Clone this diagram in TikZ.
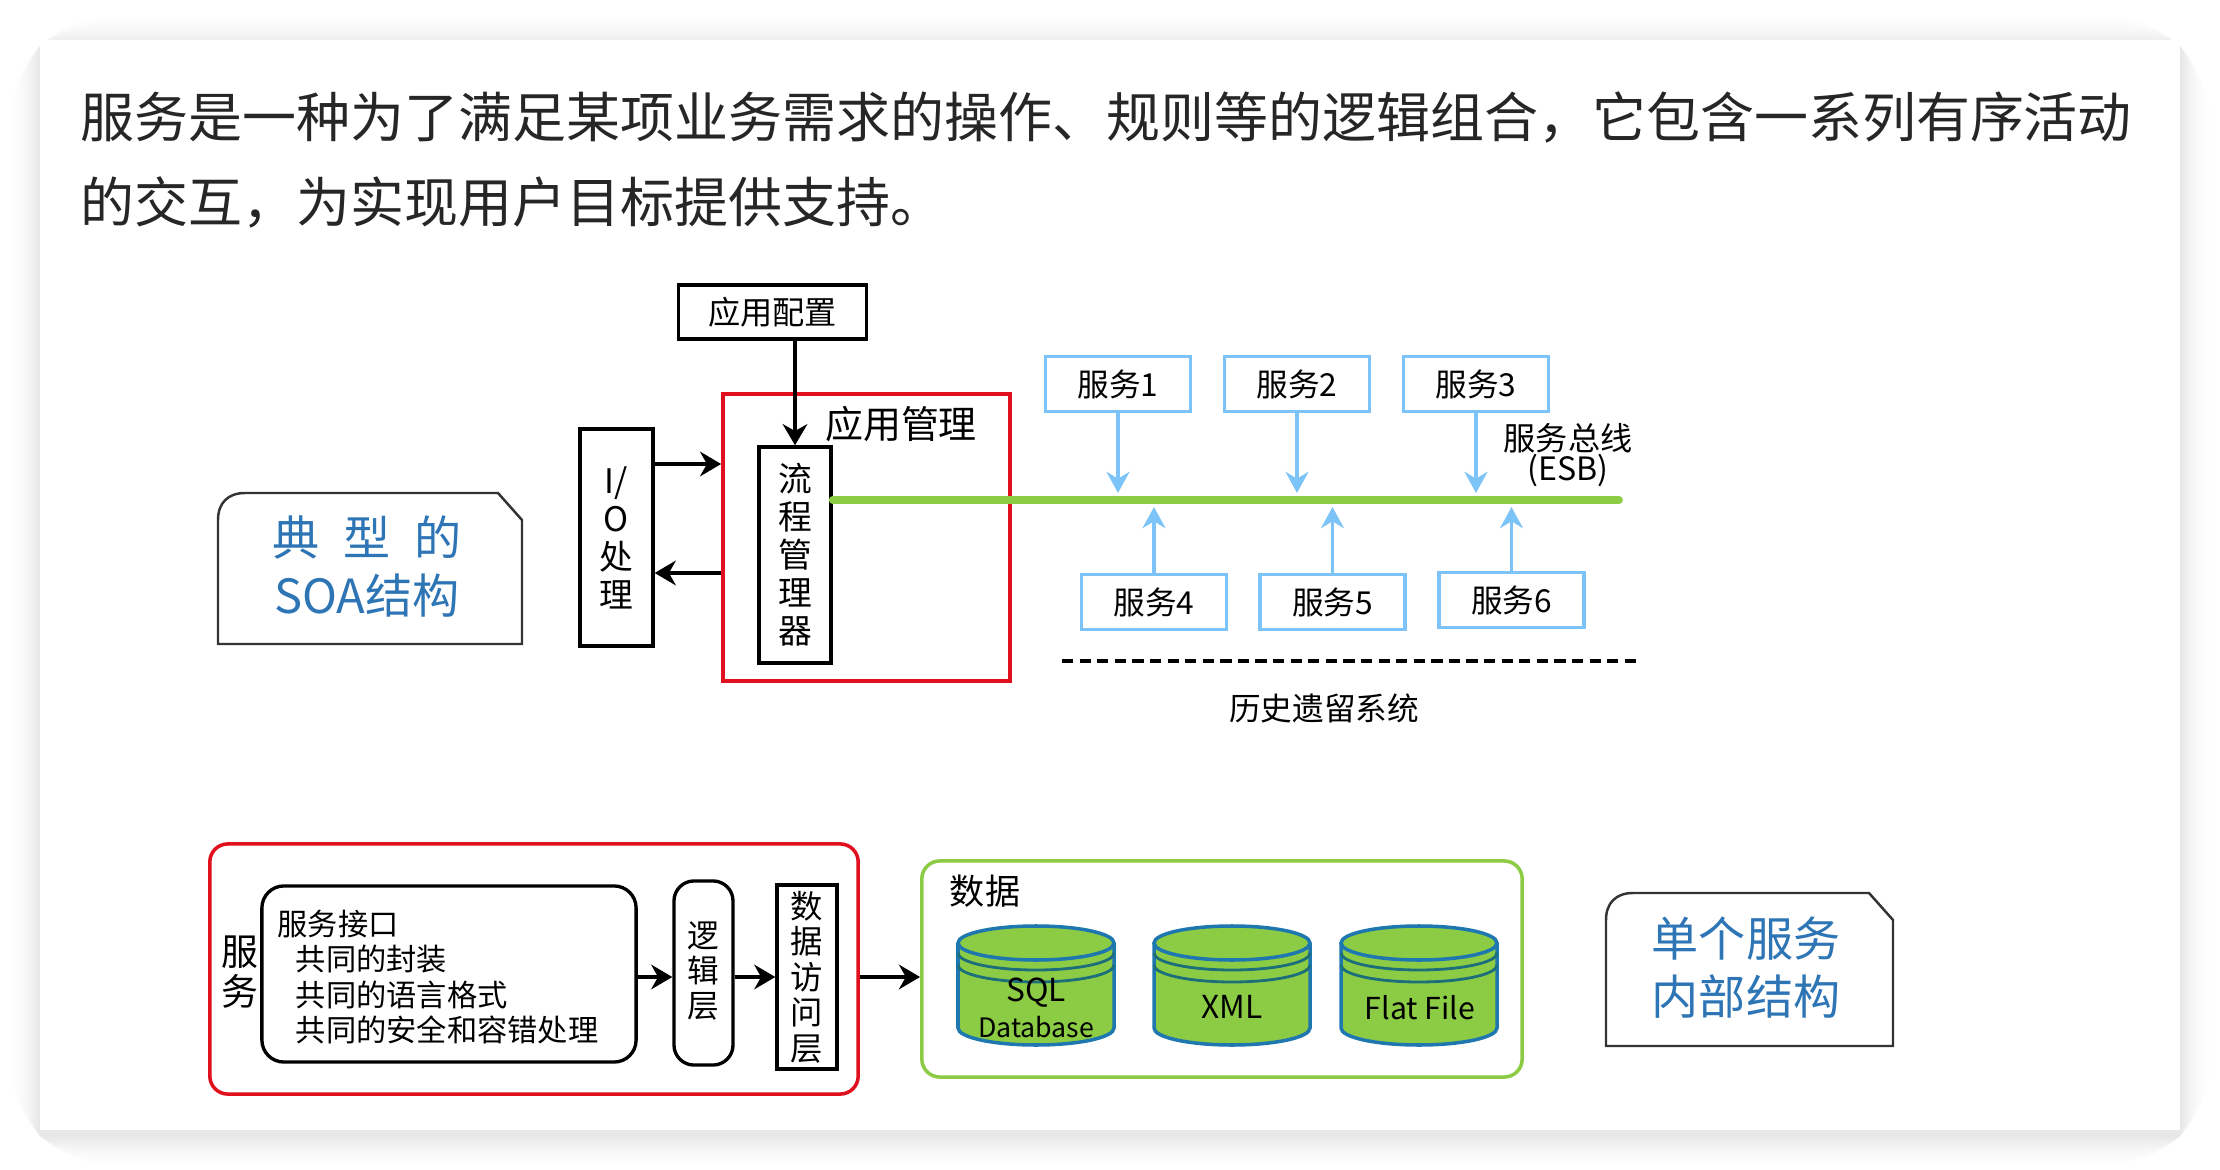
\documentclass[tikz,border=0pt]{standalone}
\usepackage{fontspec}
\setmainfont{Noto Sans CJK SC}
\usetikzlibrary{arrows.meta}
\definecolor{tagblue}{HTML}{2E75B6}
\definecolor{framered}{HTML}{E0101E}
\definecolor{busgreen}{HTML}{8CCC45}
\definecolor{svcblue}{HTML}{7CC3F7}
\definecolor{drumblue}{HTML}{1F77B0}
\definecolor{drumring}{HTML}{1B6E7A}
\begin{document}
\begin{tikzpicture}[x=0.01cm, y=-0.01cm,
    blackbox/.style={draw=black, line width=0.95pt, fill=white, inner sep=0pt, align=center},
    vtext/.style={font=\fontsize{9.6}{10.8}\selectfont},
    svcbox/.style={draw=svcblue, line width=1.1pt, minimum width=1.45cm, minimum height=0.55cm, inner sep=0pt, font=\fontsize{9}{11}\selectfont},
    svcarrow/.style={draw=svcblue, line width=1.1pt, -{Stealth[length=6pt,width=6.5pt]}},
    flowarrow/.style={draw=black, line width=1pt, -{Stealth[length=6pt,width=7pt]}},
    taglabel/.style={text=tagblue, align=center, font=\fontsize{13.4}{16.5}\selectfont},
    drumlabel/.style={font=\fontsize{9}{11}\selectfont, inner sep=0pt},
    plainlabel/.style={font=\fontsize{9}{11}\selectfont, inner sep=0pt, align=center}]
    \useasboundingbox (0,0) rectangle (2220,1170);
    % Card and its soft shadow
    \fill[white] (0,0) rectangle (2220,1170);
    \foreach \i in {34,32,...,2} {
        \pgfmathsetmacro{\pct}{10*(1-\i/36)*(1-\i/36)}
        \fill[black!\pct!white, rounded corners=\i] (40-\i,46-\i) rectangle (2180+\i,1136+\i);
    }
    \fill[white] (40,40) rectangle (2180,1130);
    \node[anchor=north west, inner sep=0pt, align=left, text=black!85,
        font=\fontsize{15.35}{24.2}\selectfont] (title) at (80,91)
        {服务是一种为了满足某项业务需求的操作、规则等的逻辑组合，它包含一系列有序活动\\的交互，为实现用户目标提供支持。};

    % Typical SOA structure
    \draw[line width=0.7pt, black!80] (218,644) -- (218,520) .. controls (218,503) and (228,493) .. (245,493)
        -- (498,493) -- (522,520) -- (522,644) -- cycle;
    \node[taglabel] (soatag) at (367,567) {典\hspace{0.5em}型\hspace{0.5em}的\\SOA结构};

    \node[draw=framered, line width=1pt, minimum width=2.87cm, minimum height=2.87cm, inner sep=0pt] (mgr) at (866.5,537.5) {};
    \node[font=\fontsize{10.8}{13}\selectfont, inner sep=0pt] (mgrlabel) at (901,424) {应用管理};
    \node[blackbox, minimum width=1.88cm, minimum height=0.54cm, font=\fontsize{9.15}{11}\selectfont] (config) at (772.5,312) {应用配置};
    \node[blackbox, vtext, minimum width=0.72cm, minimum height=2.16cm] (flow) at (795,555) {流\\程\\管\\理\\器};
    \node[blackbox, vtext, minimum width=0.73cm, minimum height=2.17cm] (io) at (616.5,537.5) {I/\\O\\处\\理};

    \coordinate (ioup) at (0,464);
    \coordinate (iodown) at (0,573);
    \draw[flowarrow] (config.south -| flow) -- (flow.north);
    \draw[flowarrow] (io.east |- ioup) -- (mgr.west |- ioup);
    \draw[flowarrow] (mgr.west |- iodown) -- (io.east |- iodown);

    % Service bus
    \coordinate (busend) at (1619,500);
    \draw[busgreen, line width=2.2pt, line cap=round] (flow.east |- busend) -- (busend);
    \node[svcbox] (svc1) at (1118,384) {服务1};
    \node[svcbox] (svc2) at (1297,384) {服务2};
    \node[svcbox] (svc3) at (1476,384) {服务3};
    \node[svcbox] (svc4) at (1154,602) {服务4};
    \node[svcbox] (svc5) at (1332.5,602) {服务5};
    \node[svcbox] (svc6) at (1511.5,600) {服务6};
    \foreach \n in {1,2,3} {
        \draw[svcarrow, shorten >=2pt] (svc\n.south) -- (svc\n |- busend);
    }
    \foreach \n in {4,5,6} {
        \draw[svcarrow, shorten >=2pt] (svc\n.north) -- (svc\n |- busend);
    }
    \node[font=\fontsize{9.15}{8.6}\selectfont, inner sep=0pt, align=center] (buslabel) at (1568,455) {服务总线\\(ESB)};

    \coordinate (legacyl) at (1062,661);
    \coordinate (legacyr) at (1638,661);
    \draw[line width=1pt, dash pattern=on 3.2pt off 1.8pt] (legacyl) -- (legacyr);
    \node[plainlabel] (legacy) at (1324,708) {历史遗留系统};

    % Single service, inner structure
    \node[draw=framered, line width=1pt, rounded corners=0.18cm, minimum width=6.48cm, minimum height=2.5cm, inner sep=0pt] (svcframe) at (534,969) {};
    \node[font=\fontsize{10.5}{11.4}\selectfont, inner sep=0pt, align=center] (svclabel) at (240,972) {服\\务};
    \node[blackbox, rounded corners=0.22cm, minimum width=3.74cm, minimum height=1.76cm] (iface) at (449,974) {};
    \node[anchor=west, inner sep=0pt, align=left, font=\fontsize{8.6}{10}\selectfont] (ifacetext) at (277,977)
        {服务接口\\\hspace{0.6em}共同的封装\\\hspace{0.6em}共同的语言格式\\\hspace{0.6em}共同的安全和容错处理};
    \node[blackbox, rounded corners=0.2cm, minimum width=0.59cm, minimum height=1.84cm, font=\fontsize{9}{10}\selectfont] (logic) at (703.5,973)
        {逻\\辑\\层\rule[-2pt]{0pt}{2pt}};
    \node[blackbox, minimum width=0.6cm, minimum height=1.84cm, font=\fontsize{9.2}{10.1}\selectfont] (dao) at (807,977) {数\\据\\访\\问\\层};
    \node[draw=busgreen, line width=1pt, rounded corners=0.18cm, minimum width=6cm, minimum height=2.16cm, inner sep=0pt] (dataframe) at (1222,969) {};
    \node[font=\fontsize{10}{12}\selectfont, inner sep=0pt] (datalabel) at (985,891) {数据};

    \coordinate (servicerow) at (0,977);
    \draw[flowarrow] (iface.east |- servicerow) -- (logic.west |- servicerow);
    \draw[flowarrow] (logic.east |- servicerow) -- (dao.west |- servicerow);
    \draw[flowarrow] (svcframe.east |- servicerow) -- (dataframe.west |- servicerow);

    % Data stores
    \foreach \cx in {1036,1232,1419} {
        \fill[busgreen] (\cx-78,943) -- (\cx-78,1028) arc[start angle=180, end angle=0, x radius=78, y radius=17]
            -- (\cx+78,943) arc[start angle=0, end angle=-180, x radius=78, y radius=17] -- cycle;
        \draw[drumblue, line width=1pt] (\cx-78,943) -- (\cx-78,1028) arc[start angle=180, end angle=0, x radius=78, y radius=17] -- (\cx+78,943);
        \draw[drumblue, line width=1pt] (\cx,943) ellipse [x radius=78, y radius=17];
        \foreach \ringy in {953,965} {
            \draw[drumring, line width=0.8pt] (\cx+78,\ringy) arc[start angle=0, end angle=180, x radius=78, y radius=17];
        }
    }
    \node[drumlabel] (sql) at (1036,993) {SQL};
    \node[drumlabel, font=\fontsize{7.6}{10}\selectfont] (sqldb) at (1036,1027) {Database};
    \node[drumlabel] (xml) at (1232,1007) {XML};
    \node[drumlabel, font=\fontsize{8.6}{11}\selectfont] (flatfile) at (1420,1008) {Flat File};

    \draw[line width=0.7pt, black!80] (1606,1046) -- (1606,920) .. controls (1606,903) and (1616,893) .. (1633,893)
        -- (1869,893) -- (1893,920) -- (1893,1046) -- cycle;
    \node[taglabel] (innertag) at (1746,968) {单个服务\\内部结构};
\end{tikzpicture}
\end{document}
